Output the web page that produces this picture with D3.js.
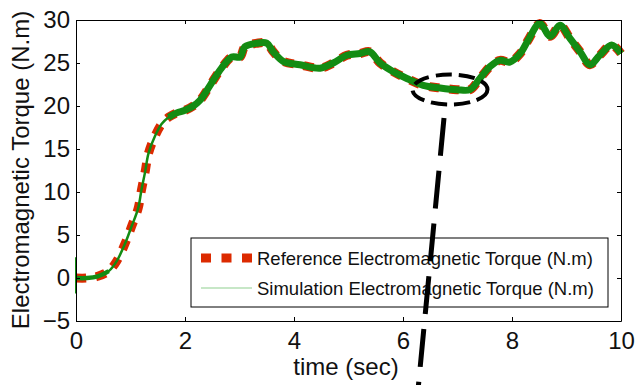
<!DOCTYPE html>
<html>
<head>
<meta charset="utf-8">
<script src="https://cdn.jsdelivr.net/npm/d3@7"></script>
<style>
  body { margin: 0; background: #fff; }
  text { font-family: "Liberation Sans", Arial, sans-serif; fill: #111; }
</style>
</head>
<body>
<div id="chart"></div>
<script>
// values
const timeSec = [0, 0.2, 0.4, 0.6, 0.75, 0.9, 1.02, 1.14, 1.2, 1.27, 1.33, 1.45, 1.57, 1.7, 1.85, 2.0, 2.15, 2.28,
  2.46, 2.67, 2.86, 3.01, 3.1, 3.32, 3.5, 3.62, 3.8, 4.11, 4.48, 4.72, 4.97, 5.21, 5.39, 5.58, 5.82, 6.07,
  6.37, 6.68, 6.99, 7.23, 7.41, 7.6, 7.78, 7.96, 8.15, 8.3, 8.51, 8.7, 8.88, 9.06, 9.25, 9.43, 9.61, 9.83, 10];
const refTorque = [0, 0, 0.2, 0.8, 2.0, 4.0, 6.0, 8.1, 10.2, 12.4, 14.5, 16.5, 17.9, 18.7, 19.2, 19.5, 20.0, 20.7,
  22.4, 24.4, 25.7, 25.7, 26.9, 27.3, 27.3, 26.3, 25.2, 24.8, 24.4, 25.0, 25.9, 26.1, 26.3, 25.0, 24.0, 23.2,
  22.4, 22.1, 21.9, 21.9, 23.2, 24.6, 25.3, 25.1, 26.1, 27.7, 29.6, 28.1, 29.4, 27.9, 26.3, 24.8, 25.9, 27.1, 26.1];
const simTorque = refTorque.slice();
// start-up spike of the simulated torque at t = 0
const spikeTime = [0, 0];
const spikeTorque = [2.4, -1.8];

const xTicks = [0, 2, 4, 6, 8, 10];
const yTicks = [-5, 0, 5, 10, 15, 20, 25, 30];
const legendLabels = ["Reference Electromagnetic Torque (N.m)", "Simulation Electromagnetic Torque (N.m)"];

const W = 636, H = 385;
const plotL = 76, plotR = 621, plotT = 20, plotB = 321;

const svg = d3.select("#chart").append("svg")
  .attr("width", W)
  .attr("height", H);

const x = d3.scaleLinear().domain([0, 10]).range([plotL, plotR]);
const y = d3.scaleLinear().domain([-5, 30]).range([plotB, plotT]);

const red = "#dc2a00";
const green = "#138c13";

const refPts = timeSec.map((t, i) => [t, refTorque[i]]);
const simPts = timeSec.map((t, i) => [t, simTorque[i]]);

const line = d3.line()
  .x(d => x(d[0]))
  .y(d => y(d[1]))
  .curve(d3.curveCatmullRom.alpha(0.5));

// reference (thick red dashes)
svg.append("path")
  .attr("d", line(refPts))
  .attr("fill", "none")
  .attr("stroke", red)
  .attr("stroke-width", 9)
  .attr("stroke-dasharray", "10,10");

// simulation: thin during the rise, a wide ripple band elsewhere
svg.append("path")
  .attr("d", line(simPts))
  .attr("fill", "none")
  .attr("stroke", green)
  .attr("stroke-width", 2.5);

svg.append("path")
  .attr("d", line(simPts.filter(d => d[0] <= 0.6)))
  .attr("fill", "none")
  .attr("stroke", green)
  .attr("stroke-width", 4.5);

svg.append("path")
  .attr("d", line(simPts.filter(d => d[0] >= 1.7)))
  .attr("fill", "none")
  .attr("stroke", green)
  .attr("stroke-width", 7);

svg.append("path")
  .attr("d", d3.line().x(d => x(d[0])).y(d => y(d[1]))(spikeTime.map((t, i) => [t, spikeTorque[i]])))
  .attr("fill", "none")
  .attr("stroke", green)
  .attr("stroke-width", 2);

// axes, MATLAB style box with inward ticks
function styleAxis(g) {
  g.selectAll("path.domain").attr("stroke", "#000").attr("stroke-width", 1);
  g.selectAll(".tick line").attr("stroke", "#000");
  g.selectAll("text").attr("font-size", 24).attr("fill", "#111")
    .style("font-family", "'Liberation Sans', Arial, sans-serif");
}

svg.append("g")
  .attr("transform", `translate(0,${plotB})`)
  .call(d3.axisBottom(x).tickValues(xTicks).tickSize(-4).tickSizeOuter(0).tickPadding(11))
  .call(styleAxis);

svg.append("g")
  .attr("transform", `translate(0,${plotT})`)
  .call(d3.axisTop(x).tickValues(xTicks).tickSize(-4).tickSizeOuter(0).tickFormat(""))
  .call(styleAxis);

svg.append("g")
  .attr("transform", `translate(${plotL},0)`)
  .call(d3.axisLeft(y).tickValues(yTicks).tickSize(-4).tickSizeOuter(0).tickPadding(6))
  .call(styleAxis);

svg.append("g")
  .attr("transform", `translate(${plotR},0)`)
  .call(d3.axisRight(y).tickValues(yTicks).tickSize(-4).tickSizeOuter(0).tickFormat(""))
  .call(styleAxis);

// axis titles
svg.append("text")
  .attr("x", 346)
  .attr("y", 375)
  .attr("text-anchor", "middle")
  .attr("font-size", 24)
  .text("time (sec)");

svg.append("text")
  .attr("transform", "translate(29,170) rotate(-90)")
  .attr("text-anchor", "middle")
  .attr("font-size", 24)
  .text("Electromagnetic Torque (N.m)");

// legend
const lg = svg.append("g").attr("transform", "translate(191,238)");
lg.append("rect")
  .attr("width", 417)
  .attr("height", 69)
  .attr("fill", "#fff")
  .attr("stroke", "#000")
  .attr("stroke-width", 1);

lg.append("line")
  .attr("x1", 10).attr("x2", 61)
  .attr("y1", 20).attr("y2", 20)
  .attr("stroke", red)
  .attr("stroke-width", 9)
  .attr("stroke-dasharray", "10,10.5");

lg.append("line")
  .attr("x1", 10).attr("x2", 61)
  .attr("y1", 50).attr("y2", 50)
  .attr("stroke", "#8fcf8f")
  .attr("stroke-width", 1.2);

lg.selectAll("text.lab")
  .data(legendLabels)
  .enter()
  .append("text")
  .attr("class", "lab")
  .attr("x", 66)
  .attr("y", (d, i) => 27 + i * 30)
  .attr("font-size", 18.5)
  .text(d => d);

// zoom marker: dashed ellipse and pointer line
svg.append("ellipse")
  .attr("cx", 450)
  .attr("cy", 89.5)
  .attr("rx", 37.5)
  .attr("ry", 15)
  .attr("fill", "none")
  .attr("stroke", "#000")
  .attr("stroke-width", 4)
  .attr("stroke-dasharray", "16,7");

svg.append("line")
  .attr("x1", 444).attr("y1", 118)
  .attr("x2", 418).attr("y2", 390)
  .attr("stroke", "#000")
  .attr("stroke-width", 5)
  .attr("stroke-dasharray", "38,15");
</script>
</body>
</html>
